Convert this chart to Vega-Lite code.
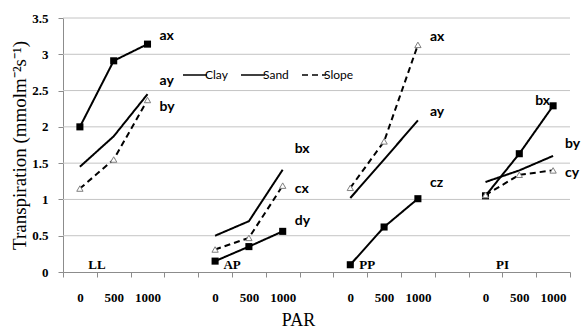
{
  "$schema": "https://vega.github.io/schema/vega-lite/v6.json",
  "width": 507,
  "height": 254,
  "autosize": "none",
  "padding": {"left": 63, "top": 18, "right": 13, "bottom": 60},
  "background": "white",
  "config": {"view": {"stroke": null}, "font": "Liberation Serif"},
  "datasets": {
    "transp": [
      {"group": "LL", "cat": "LL|0", "series": "Clay", "value": 1.45},
      {"group": "LL", "cat": "LL|500", "series": "Clay", "value": 1.87},
      {"group": "LL", "cat": "LL|1000", "series": "Clay", "value": 2.45},
      {"group": "LL", "cat": "LL|0", "series": "Sand", "value": 2.0},
      {"group": "LL", "cat": "LL|500", "series": "Sand", "value": 2.91},
      {"group": "LL", "cat": "LL|1000", "series": "Sand", "value": 3.14},
      {"group": "LL", "cat": "LL|0", "series": "Slope", "value": 1.15},
      {"group": "LL", "cat": "LL|500", "series": "Slope", "value": 1.55},
      {"group": "LL", "cat": "LL|1000", "series": "Slope", "value": 2.37},
      {"group": "AP", "cat": "AP|0", "series": "Clay", "value": 0.5},
      {"group": "AP", "cat": "AP|500", "series": "Clay", "value": 0.7},
      {"group": "AP", "cat": "AP|1000", "series": "Clay", "value": 1.41},
      {"group": "AP", "cat": "AP|0", "series": "Sand", "value": 0.15},
      {"group": "AP", "cat": "AP|500", "series": "Sand", "value": 0.35},
      {"group": "AP", "cat": "AP|1000", "series": "Sand", "value": 0.56},
      {"group": "AP", "cat": "AP|0", "series": "Slope", "value": 0.31},
      {"group": "AP", "cat": "AP|500", "series": "Slope", "value": 0.47},
      {"group": "AP", "cat": "AP|1000", "series": "Slope", "value": 1.19},
      {"group": "PP", "cat": "PP|0", "series": "Clay", "value": 1.02},
      {"group": "PP", "cat": "PP|500", "series": "Clay", "value": 1.55},
      {"group": "PP", "cat": "PP|1000", "series": "Clay", "value": 2.09},
      {"group": "PP", "cat": "PP|0", "series": "Sand", "value": 0.1},
      {"group": "PP", "cat": "PP|500", "series": "Sand", "value": 0.62},
      {"group": "PP", "cat": "PP|1000", "series": "Sand", "value": 1.01},
      {"group": "PP", "cat": "PP|0", "series": "Slope", "value": 1.16},
      {"group": "PP", "cat": "PP|500", "series": "Slope", "value": 1.8},
      {"group": "PP", "cat": "PP|1000", "series": "Slope", "value": 3.13},
      {"group": "PI", "cat": "PI|0", "series": "Clay", "value": 1.24},
      {"group": "PI", "cat": "PI|500", "series": "Clay", "value": 1.4},
      {"group": "PI", "cat": "PI|1000", "series": "Clay", "value": 1.6},
      {"group": "PI", "cat": "PI|0", "series": "Sand", "value": 1.05},
      {"group": "PI", "cat": "PI|500", "series": "Sand", "value": 1.63},
      {"group": "PI", "cat": "PI|1000", "series": "Sand", "value": 2.29},
      {"group": "PI", "cat": "PI|0", "series": "Slope", "value": 1.06},
      {"group": "PI", "cat": "PI|500", "series": "Slope", "value": 1.34},
      {"group": "PI", "cat": "PI|1000", "series": "Slope", "value": 1.4}
    ],
    "gridlines": [
      {"value": 0.5}, {"value": 1}, {"value": 1.5}, {"value": 2}, {"value": 2.5}, {"value": 3}, {"value": 3.5}
    ],
    "notes": [
      {"cat": "LL|1000", "value": 3.25, "label": "ax"},
      {"cat": "LL|1000", "value": 2.63, "label": "ay"},
      {"cat": "LL|1000", "value": 2.28, "label": "by"},
      {"cat": "AP|1000", "value": 1.69, "label": "bx"},
      {"cat": "AP|1000", "value": 1.14, "label": "cx"},
      {"cat": "AP|1000", "value": 0.7, "label": "dy"},
      {"cat": "PP|1000", "value": 3.24, "label": "ax"},
      {"cat": "PP|1000", "value": 2.2, "label": "ay"},
      {"cat": "PP|1000", "value": 1.23, "label": "cz"},
      {"cat": "PI|1000", "value": 1.76, "label": "by"},
      {"cat": "PI|1000", "value": 1.37, "label": "cy"}
    ],
    "noteLeft": [
      {"cat": "PI|1000", "value": 2.35, "label": "bx"}
    ],
    "groups": [
      {"cat": "LL|0", "value": 0.1, "label": "LL"},
      {"cat": "AP|0", "value": 0.1, "label": "AP"},
      {"cat": "PP|0", "value": 0.1, "label": "PP"},
      {"cat": "PI|0", "value": 0.1, "label": "PI"}
    ]
  },
  "layer": [
    {
      "data": {"name": "gridlines"},
      "mark": {"type": "rule", "color": "#c4c4c4", "strokeWidth": 1},
      "encoding": {
        "y": {"field": "value", "type": "quantitative"}
      }
    },
    {
      "data": {"name": "transp"},
      "mark": {"type": "line", "strokeWidth": 2, "color": "black"},
      "encoding": {
        "x": {
          "field": "cat",
          "type": "ordinal",
          "sort": null,
          "scale": {
            "type": "band",
            "domain": ["LL|0", "LL|500", "LL|1000", "g1", "AP|0", "AP|500", "AP|1000", "g2", "PP|0", "PP|500", "PP|1000", "g3", "PI|0", "PI|500", "PI|1000"],
            "paddingInner": 0,
            "paddingOuter": 0
          },
          "axis": {
            "title": "PAR",
            "titleFont": "Liberation Serif",
            "titleFontSize": 18,
            "titleFontWeight": "normal",
            "titleColor": "black",
            "titlePadding": 7,
            "titleX": 235,
            "labelFont": "Liberation Serif",
            "labelFontWeight": "bold",
            "labelFontSize": 13,
            "labelColor": "black",
            "labelAngle": 0,
            "labelPadding": 14,
            "labelExpr": "isString(datum.value) && indexof(datum.value, '|') >= 0 ? split(datum.value, '|')[1] : ''",
            "tickBand": "extent",
            "tickSize": 5,
            "tickColor": "#8c8c8c",
            "domainColor": "#8c8c8c",
            "grid": false
          }
        },
        "y": {
          "field": "value",
          "type": "quantitative",
          "scale": {"domain": [0, 3.5], "nice": false},
          "axis": {
            "title": "Transpiration (mmolm⁻²s⁻¹)",
            "titleFont": "Liberation Serif",
            "titleFontSize": 19,
            "titleFontWeight": "normal",
            "titleColor": "black",
            "titlePadding": 2,
            "tickCount": 7,
            "labelExpr": "format(datum.value, '~g')",
            "labelOverlap": false,
            "labelFont": "Liberation Serif",
            "labelFontWeight": "bold",
            "labelFontSize": 13,
            "labelColor": "black",
            "labelPadding": 10,
            "tickSize": 5,
            "tickColor": "#8c8c8c",
            "domainColor": "#8c8c8c",
            "grid": false
          }
        },
        "detail": {"field": "group", "type": "nominal"},
        "strokeDash": {
          "field": "series",
          "type": "nominal",
          "scale": {"domain": ["Clay", "Sand", "Slope"], "range": [[1, 0], [1, 0], [6, 4]]},
          "legend": {
            "title": null,
            "orient": "none",
            "legendX": 119,
            "legendY": 44,
            "direction": "horizontal",
            "columns": 3,
            "columnPadding": 10,
            "symbolSize": 576,
            "symbolStrokeWidth": 1.5,
            "labelFont": "Lato",
            "labelFontSize": 12,
            "labelColor": "black",
            "labelOffset": -3
          }
        }
      }
    },
    {
      "data": {"name": "transp"},
      "transform": [{"filter": "datum.series === 'Sand'"}],
      "mark": {"type": "square", "filled": true, "color": "black", "size": 50, "opacity": 1},
      "encoding": {
        "x": {"field": "cat", "type": "ordinal", "sort": null},
        "y": {"field": "value", "type": "quantitative"}
      }
    },
    {
      "data": {"name": "transp"},
      "transform": [{"filter": "datum.series === 'Slope'"}],
      "mark": {"type": "point", "shape": "triangle-up", "filled": true, "fill": "white", "stroke": "#7f7f7f", "strokeWidth": 1, "size": 40, "opacity": 1},
      "encoding": {
        "x": {"field": "cat", "type": "ordinal", "sort": null},
        "y": {"field": "value", "type": "quantitative"}
      }
    },
    {
      "data": {"name": "notes"},
      "mark": {"type": "text", "font": "Lato", "fontWeight": "bold", "fontSize": 14, "align": "left", "baseline": "middle", "dx": 12, "color": "black"},
      "encoding": {
        "x": {"field": "cat", "type": "ordinal", "sort": null},
        "y": {"field": "value", "type": "quantitative"},
        "text": {"field": "label", "type": "nominal"}
      }
    },
    {
      "data": {"name": "noteLeft"},
      "mark": {"type": "text", "font": "Lato", "fontWeight": "bold", "fontSize": 14, "align": "right", "baseline": "middle", "dx": -3, "color": "black"},
      "encoding": {
        "x": {"field": "cat", "type": "ordinal", "sort": null},
        "y": {"field": "value", "type": "quantitative"},
        "text": {"field": "label", "type": "nominal"}
      }
    },
    {
      "data": {"name": "groups"},
      "mark": {"type": "text", "font": "Liberation Serif", "fontWeight": "bold", "fontSize": 13, "align": "center", "baseline": "middle", "dx": 17, "color": "black"},
      "encoding": {
        "x": {"field": "cat", "type": "ordinal", "sort": null},
        "y": {"field": "value", "type": "quantitative"},
        "text": {"field": "label", "type": "nominal"}
      }
    }
  ]
}
